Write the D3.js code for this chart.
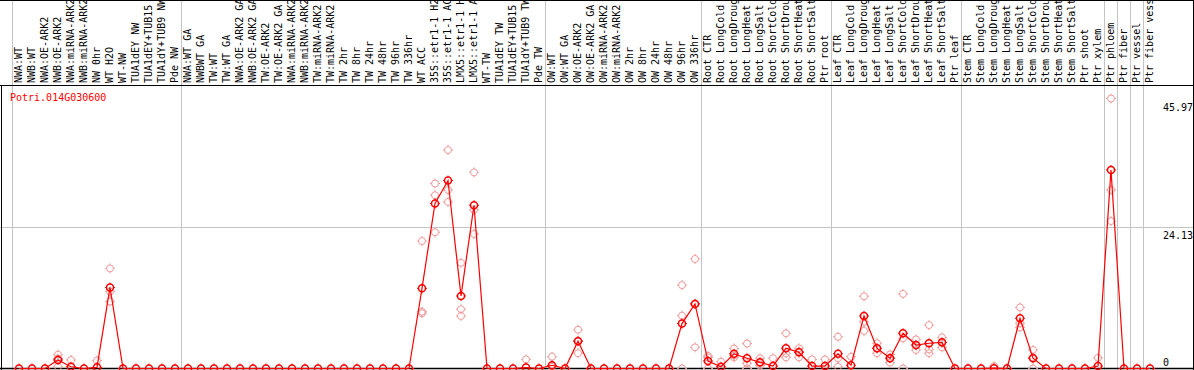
<!DOCTYPE html>
<html>
<head>
<meta charset="utf-8">
<script src="https://cdn.jsdelivr.net/npm/d3@7"></script>
<style>
  body { margin: 0; background: #fff; }
  svg text { font-family: "DejaVu Sans Mono", monospace; font-size: 10px; }
</style>
</head>
<body>
<div id="chart"></div>
<script>
var svgWidth = 1194;
var svgHeight = 370;

// gene shown
var geneName = "Potri.014G030600";

// sample names, left to right
var samples = [
  "NWA:WT", "NWB:WT", "NWA:OE-ARK2", "NWB:OE-ARK2", "NWA:miRNA-ARK2", "NWB:miRNA-ARK2",
  "NW 0hr", "WT H2O", "WT-NW", "TUA1dEY NW", "TUA1dEY+TUB15 NW", "TUA1dY+TUB9 NW", "Pde NW",
  "NWA:WT GA", "NWBWT GA", "TW:WT", "TW:WT GA", "NWA:OE-ARK2 GA", "NWB:OE-ARK2 GA",
  "TW:OE-ARK2", "TW:OE-ARK2 GA", "NWA:miRNA-ARK2 GA", "NWB:miRNA-ARK2 GA", "TW:miRNA-ARK2",
  "TW:miRNA-ARK2 GA", "TW 2hr", "TW 8hr", "TW 24hr", "TW 48hr", "TW 96hr", "TW 336hr",
  "WT ACC", "35S::etr1-1 H2O", "35S::etr1-1 ACC", "LMX5::etr1-1 H2O", "LMX5::etr1-1 ACC",
  "WT-TW", "TUA1dEY TW", "TUA1dEY+TUB15 TW", "TUA1dY+TUB9 TW", "Pde TW",
  "OW:WT", "OW:WT GA", "OW:OE-ARK2", "OW:OE-ARK2 GA", "OW:miRNA-ARK2", "OW:miRNA-ARK2 GA",
  "OW 2hr", "OW 8hr", "OW 24hr", "OW 48hr", "OW 96hr", "OW 336hr",
  "Root CTR", "Root LongCold", "Root LongDrought", "Root LongHeat", "Root LongSalt",
  "Root ShortCold", "Root ShortDrought", "Root ShortHeat", "Root ShortSalt", "Ptr root",
  "Leaf CTR", "Leaf LongCold", "Leaf LongDrought", "Leaf LongHeat", "Leaf LongSalt",
  "Leaf ShortCold", "Leaf ShortDrought", "Leaf ShortHeat", "Leaf ShortSalt", "Ptr leaf",
  "Stem CTR", "Stem LongCold", "Stem LongDrought", "Stem LongHeat", "Stem LongSalt",
  "Stem ShortCold", "Stem ShortDrought", "Stem ShortHeat", "Stem ShortSalt", "Ptr shoot",
  "Ptr xylem", "Ptr phloem", "Ptr fiber", "Ptr vessel", "Ptr fiber vessel"
];

// mean expression per sample
var means = [
  0, 0, 0, 1.45, 0.3, 0, 0.2, 13.8, 0, 0, 0, 0, 0,
  0, 0, 0, 0, 0, 0, 0, 0, 0, 0, 0, 0, 0, 0, 0, 0, 0, 0,
  13.65, 28.1, 32.0, 12.35, 27.8, 0, 0, 0, 0.15, 0,
  0.55, 0, 4.65, 0, 0, 0, 0, 0, 0, 0, 7.65, 11.0,
  1.27, 0.3, 2.5, 1.75, 1.05, 0.42, 3.45, 2.75, 0.42, 0.42,
  2.5, 0.55, 8.95, 3.45, 1.75, 6.0, 4.0, 4.3, 4.45, 0,
  0, 0, 0.05, 0, 8.55, 1.75, 0, 0, 0, 0,
  0.42, 33.8, 0, 0, 0
];

// replicate values (index of sample, value)
var replicates = [
  [3, 2.35], [3, 1.7], [3, 0.3],
  [4, 1.45],
  [6, 1.35],
  [7, 17.05], [7, 13.1], [7, 11.4],
  [31, 21.7], [31, 9.67], [31, 9.4],
  [32, 31.5], [32, 29.5], [32, 23.2],
  [33, 37.2], [33, 30.4], [33, 28.35],
  [34, 18.0], [34, 10.1], [34, 8.95],
  [35, 33.4], [35, 27.0], [35, 22.9],
  [39, 1.55],
  [41, 2.0], [41, 0.3],
  [43, 6.6], [43, 4.75], [43, 2.6],
  [51, 14.2], [51, 9.0], [51, 0],
  [52, 18.65], [52, 11.0], [52, 3.6],
  [53, 2.15], [53, 1.9], [53, 0],
  [54, 1.15],
  [55, 3.4], [55, 1.9], [55, 2.2],
  [56, 4.25], [56, 0.9], [56, 0],
  [57, 1.75], [57, 0.9], [57, 0.5],
  [58, 1.75],
  [59, 6.0], [59, 2.6], [59, 1.9],
  [60, 3.45], [60, 1.9], [60, 2.9],
  [61, 1.55], [62, 1.55],
  [63, 5.4], [63, 1.75], [63, 0.3],
  [64, 2.0],
  [65, 12.3], [65, 7.95], [65, 6.4],
  [66, 4.3], [66, 2.6], [66, 3.4],
  [67, 2.4], [67, 1.0], [67, 1.8],
  [68, 12.7], [68, 5.15], [68, 0],
  [69, 4.95], [69, 3.15], [69, 3.9],
  [70, 7.4], [70, 3.25], [70, 2.6],
  [71, 5.3], [71, 3.6], [71, 4.4],
  [75, 0.4],
  [77, 10.4], [77, 7.7], [77, 7.0],
  [78, 3.15], [78, 1.9], [78, 0],
  [83, 1.8],
  [84, 45.97], [84, 30.4], [84, 25.1]
];

// sample index after which a separator is drawn
var groupBreaks = [-1, 12, 40, 52, 62, 72, 83, 84, 85, 86];

// y axis labels
var yTicks = [0, 24.13, 45.97];

var plotTop = 85.5;

var svg = d3.select("#chart")
  .append("svg")
  .attr("width", svgWidth)
  .attr("height", svgHeight);

var xScale = d3.scalePoint()
  .domain(d3.range(samples.length))
  .range([19, 1150]);

var step = xScale.step();

var yScale = d3.scaleLinear()
  .domain([0, 45.97])
  .range([368.5, 98.5]);

// separators
svg.selectAll(".sep")
  .data(groupBreaks)
  .enter()
  .append("line")
  .attr("x1", d => xScale(Math.max(d, 0)) + (d < 0 ? -step / 2 : step / 2))
  .attr("x2", d => xScale(Math.max(d, 0)) + (d < 0 ? -step / 2 : step / 2))
  .attr("y1", 0)
  .attr("y2", svgHeight)
  .attr("stroke", "#c4c4c4")
  .attr("stroke-width", 1);

// horizontal grid at middle label
svg.append("line")
  .attr("x1", 0)
  .attr("x2", svgWidth)
  .attr("y1", Math.round(yScale(24.13)) + 0.5)
  .attr("y2", Math.round(yScale(24.13)) + 0.5)
  .attr("stroke", "#c4c4c4");

// frame
svg.append("line").attr("x1", 0).attr("x2", svgWidth).attr("y1", 0.5).attr("y2", 0.5).attr("stroke", "#000");
svg.append("line").attr("x1", 0).attr("x2", svgWidth).attr("y1", plotTop).attr("y2", plotTop).attr("stroke", "#000");
svg.append("line").attr("x1", 0).attr("x2", svgWidth).attr("y1", 368.5).attr("y2", 368.5).attr("stroke", "#000").attr("stroke-width", 1.5);
svg.append("line").attr("x1", 1.5).attr("x2", 1.5).attr("y1", plotTop).attr("y2", svgHeight).attr("stroke", "#000");
svg.append("line").attr("x1", svgWidth - 0.5).attr("x2", svgWidth - 0.5).attr("y1", 0).attr("y2", svgHeight).attr("stroke", "#000");

// sample labels, rotated
svg.append("g")
  .selectAll("text")
  .data(samples)
  .enter()
  .append("text")
  .attr("transform", (d, i) => `translate(${xScale(i) + 2.5}, 83) rotate(-90)`)
  .attr("fill", "#000")
  .text(d => d);

// gene title
svg.append("text")
  .attr("x", 10)
  .attr("y", 101)
  .attr("fill", "#ff0000")
  .text(geneName);

// y labels
svg.selectAll(".ylab")
  .data(yTicks)
  .enter()
  .append("text")
  .attr("x", 1163)
  .attr("y", d => d === 0 ? yScale(d) - 3 : yScale(d) + 12)
  .attr("fill", "#000")
  .text(d => d);

// markers with small ticks
function marker(g, color, width) {
  var r = 3.5;
  g.append("circle")
    .attr("r", r)
    .attr("fill", "none")
    .attr("stroke", color)
    .attr("stroke-width", width);
  [[0, -1], [0, 1], [-1, 0], [1, 0]].forEach(function(v) {
    g.append("line")
      .attr("x1", v[0] * r)
      .attr("y1", v[1] * r)
      .attr("x2", v[0] * (r + 1.5))
      .attr("y2", v[1] * (r + 1.5))
      .attr("stroke", color)
      .attr("stroke-width", 1);
  });
}

// replicates
svg.append("g")
  .selectAll("g")
  .data(replicates)
  .enter()
  .append("g")
  .attr("transform", d => `translate(${xScale(d[0])}, ${yScale(d[1])})`)
  .each(function() { marker(d3.select(this), "#ee9a9a", 1); });

// mean line
var line = d3.line()
  .x((d, i) => xScale(i))
  .y(d => yScale(d));

svg.append("path")
  .datum(means)
  .attr("d", line)
  .attr("fill", "none")
  .attr("stroke", "#ff0000")
  .attr("stroke-width", 1.2);

svg.append("g")
  .selectAll("g")
  .data(means)
  .enter()
  .append("g")
  .attr("transform", (d, i) => `translate(${xScale(i)}, ${yScale(d)})`)
  .each(function() { marker(d3.select(this), "#ff0000", 1.5); });
</script>
</body>
</html>
